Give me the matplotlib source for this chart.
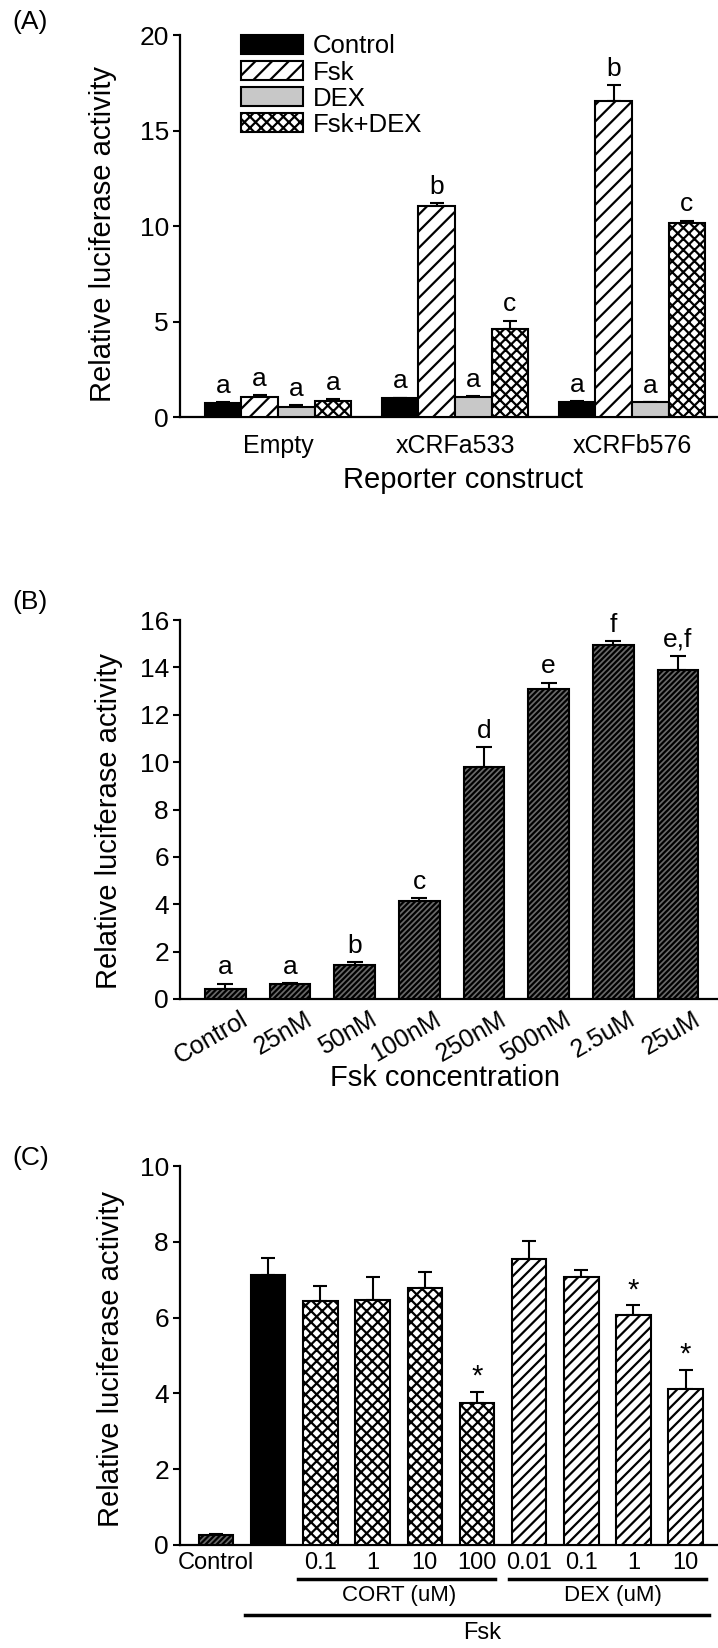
import numpy as np
import matplotlib
matplotlib.use("Agg")
import matplotlib.pyplot as plt
from matplotlib.transforms import blended_transform_factory

plt.rcParams['font.family'] = ['Liberation Sans', 'DejaVu Sans']
plt.rcParams['hatch.linewidth'] = 1.6

# ---- panel A data ----
a_groups = ['Empty', 'xCRFa533', 'xCRFb576']
a_series = ['Control', 'Fsk', 'DEX', 'Fsk+DEX']
a_control = [0.71, 0.99, 0.81]
a_control_err = [0.06, 0.03, 0.03]
a_fsk = [1.05, 11.05, 16.55]
a_fsk_err = [0.09, 0.13, 0.82]
a_dex = [0.53, 1.05, 0.77]
a_dex_err = [0.08, 0.03, 0.03]
a_fskdex = [0.86, 4.60, 10.17]
a_fskdex_err = [0.08, 0.45, 0.11]
a_letters = [['a', 'a', 'a'], ['a', 'b', 'b'], ['a', 'a', 'a'], ['a', 'c', 'c']]

# ---- panel B data ----
b_labels = ['Control', '25nM', '50nM', '100nM', '250nM', '500nM', '2.5uM', '25uM']
b_means = [0.42, 0.62, 1.45, 4.12, 9.78, 13.10, 14.94, 13.90]
b_errs = [0.23, 0.06, 0.10, 0.15, 0.86, 0.26, 0.16, 0.60]
b_letters = ['a', 'a', 'b', 'c', 'd', 'e', 'f', 'e,f']

# ---- panel C data ----
c_labels = ['Control', '', '0.1', '1', '10', '100', '0.01', '0.1', '1', '10']
c_means = [0.26, 7.12, 6.45, 6.47, 6.79, 3.74, 7.55, 7.08, 6.08, 4.11]
c_errs = [0.02, 0.44, 0.38, 0.61, 0.40, 0.31, 0.47, 0.18, 0.24, 0.51]
c_kind = ['control', 'fsk', 'cort', 'cort', 'cort', 'cort', 'dex', 'dex', 'dex', 'dex']
c_marks = ['', '', '', '', '', '*', '', '', '*', '*']

W, H = 718, 1648
fig = plt.figure(figsize=(W / 100, H / 100), dpi=100)
fig.patch.set_facecolor('white')

styles = {
    'Control': dict(facecolor='black', hatch=None),
    'Fsk': dict(facecolor='white', hatch='//'),
    'DEX': dict(facecolor='#c8c8c8', hatch=None),
    'Fsk+DEX': dict(facecolor='white', hatch='xxx'),
}


def axes_px(y_top, y_zero):
    left = 180 / W
    return [left, 1 - y_zero / H, 1 - left, (y_zero - y_top) / H]


def style_axes(ax, ymax, step):
    for s in ['top', 'right']:
        ax.spines[s].set_visible(False)
    for s in ['left', 'bottom']:
        ax.spines[s].set_linewidth(1.6)
    ax.set_ylim(0, ymax)
    ax.set_yticks(np.arange(0, ymax + 0.01, step))
    ax.tick_params(axis='y', direction='out', length=5, width=1.5, labelsize=19, pad=3)
    ax.tick_params(axis='x', length=0)
    ax.set_facecolor('none')


# ================= Panel A =================
axA = fig.add_axes(axes_px(35, 417))
style_axes(axA, 20, 5)
a_vals = [a_control, a_fsk, a_dex, a_fskdex]
a_err = [a_control_err, a_fsk_err, a_dex_err, a_fskdex_err]
x = np.arange(len(a_groups))
bw = 0.207
for i, name in enumerate(a_series):
    pos = x + (i - 1.5) * bw
    axA.bar(pos, a_vals[i], bw, edgecolor='black', linewidth=1.5,
            label=name, zorder=3, **styles[name])
    axA.errorbar(pos, a_vals[i], yerr=[np.zeros(3), a_err[i]], fmt='none',
                 ecolor='black', elinewidth=1.5, capsize=5, capthick=1.5, zorder=2)
    for p, v, e, t in zip(pos, a_vals[i], a_err[i], a_letters[i]):
        axA.annotate(t, (p, v + e), xytext=(0, 3), textcoords='offset points',
                     ha='center', va='bottom', fontsize=19)
axA.set_xlim(-0.554, 2.486)
axA.set_xticks(x)
axA.set_xticklabels(a_groups, fontsize=18)
axA.tick_params(axis='x', pad=12)
axA.set_ylabel('Relative luciferase activity', fontsize=21, va='center')
axA.yaxis.set_label_coords(-0.143, 0.48)
axA.set_xlabel('Reporter construct', fontsize=21, va='center')
axA.xaxis.set_label_coords(0.526, -0.165)
leg = axA.legend(loc='upper left', bbox_to_anchor=(0.09, 1.035), frameon=False,
                 fontsize=18.5, handlelength=2.4, handleheight=0.75,
                 labelspacing=0.08, handletextpad=0.4, borderpad=0)
fig.text(12 / W, 1 - 22 / H, '(A)', fontsize=19, va='center', ha='left')

# ================= Panel B =================
axB = fig.add_axes(axes_px(620, 999))
style_axes(axB, 16, 2)
xb = np.arange(len(b_labels))
axB.bar(xb, b_means, 0.63, facecolor='#6a6a6a', edgecolor='black',
        linewidth=1.5, hatch='//////', zorder=3)
axB.errorbar(xb, b_means, yerr=[np.zeros(len(xb)), b_errs], fmt='none',
             ecolor='black', elinewidth=1.5, capsize=6, capthick=1.5, zorder=2)
for p, v, e, t in zip(xb, b_means, b_errs, b_letters):
    axB.annotate(t, (p, v + e), xytext=(0, 3), textcoords='offset points',
                 ha='center', va='bottom', fontsize=19)
axB.set_xlim(-0.70, 7.62)
axB.set_xticks(xb + 0.22)
axB.set_xticklabels(b_labels, fontsize=18, rotation=30, ha='right',
                    rotation_mode='anchor')
axB.tick_params(axis='x', pad=6)
axB.set_ylabel('Relative luciferase activity', fontsize=21, va='center')
axB.yaxis.set_label_coords(-0.132, 0.47)
axB.set_xlabel('Fsk concentration', fontsize=21, va='center')
axB.xaxis.set_label_coords(0.4926, -0.208)
fig.text(12 / W, 1 - 602 / H, '(B)', fontsize=19, va='center', ha='left')

# ================= Panel C =================
axC = fig.add_axes(axes_px(1166, 1545))
style_axes(axC, 10, 2)
xc = np.arange(len(c_labels))
cw = 0.66
c_style = {
    'control': dict(facecolor='#6a6a6a', hatch='//////'),
    'fsk': dict(facecolor='black', hatch=None),
    'cort': dict(facecolor='white', hatch='xxx'),
    'dex': dict(facecolor='white', hatch='///'),
}
for i, k in enumerate(c_kind):
    axC.bar(xc[i], c_means[i], cw, edgecolor='black', linewidth=1.5, zorder=3,
            **c_style[k])
axC.errorbar(xc, c_means, yerr=[np.zeros(len(xc)), c_errs], fmt='none',
             ecolor='black', elinewidth=1.5, capsize=5, capthick=1.5, zorder=2)
for p, v, e, t in zip(xc, c_means, c_errs, c_marks):
    if t:
        axC.annotate(t, (p, v + e), xytext=(0, 1), textcoords='offset points',
                     ha='center', va='bottom', fontsize=21)
axC.set_xlim(-0.69, 9.62)
axC.set_xticks(xc)
axC.set_xticklabels(c_labels, fontsize=17)
axC.tick_params(axis='x', pad=5)
axC.set_ylabel('Relative luciferase activity', fontsize=21, va='center')
axC.yaxis.set_label_coords(-0.128, 0.49)

tr = blended_transform_factory(axC.transData, axC.transAxes)


def fy(px):
    return (1545 - px) / 379


axC.plot([1.57, 5.34], [fy(1579)] * 2, color='black', lw=2.5, transform=tr, clip_on=False)
axC.plot([5.61, 9.39], [fy(1579)] * 2, color='black', lw=2.5, transform=tr, clip_on=False)
axC.plot([0.56, 9.44], [fy(1615)] * 2, color='black', lw=2.5, transform=tr, clip_on=False)
axC.text(3.5, fy(1596), 'CORT (uM)', transform=tr, ha='center', va='center', fontsize=16)
axC.text(7.6, fy(1596), 'DEX (uM)', transform=tr, ha='center', va='center', fontsize=16)
axC.text(5.1, fy(1633), 'Fsk', transform=tr, ha='center', va='center', fontsize=17)
fig.text(12 / W, 1 - 1158 / H, '(C)', fontsize=19, va='center', ha='left')

fig.savefig('out.png', dpi=100, facecolor='white')
